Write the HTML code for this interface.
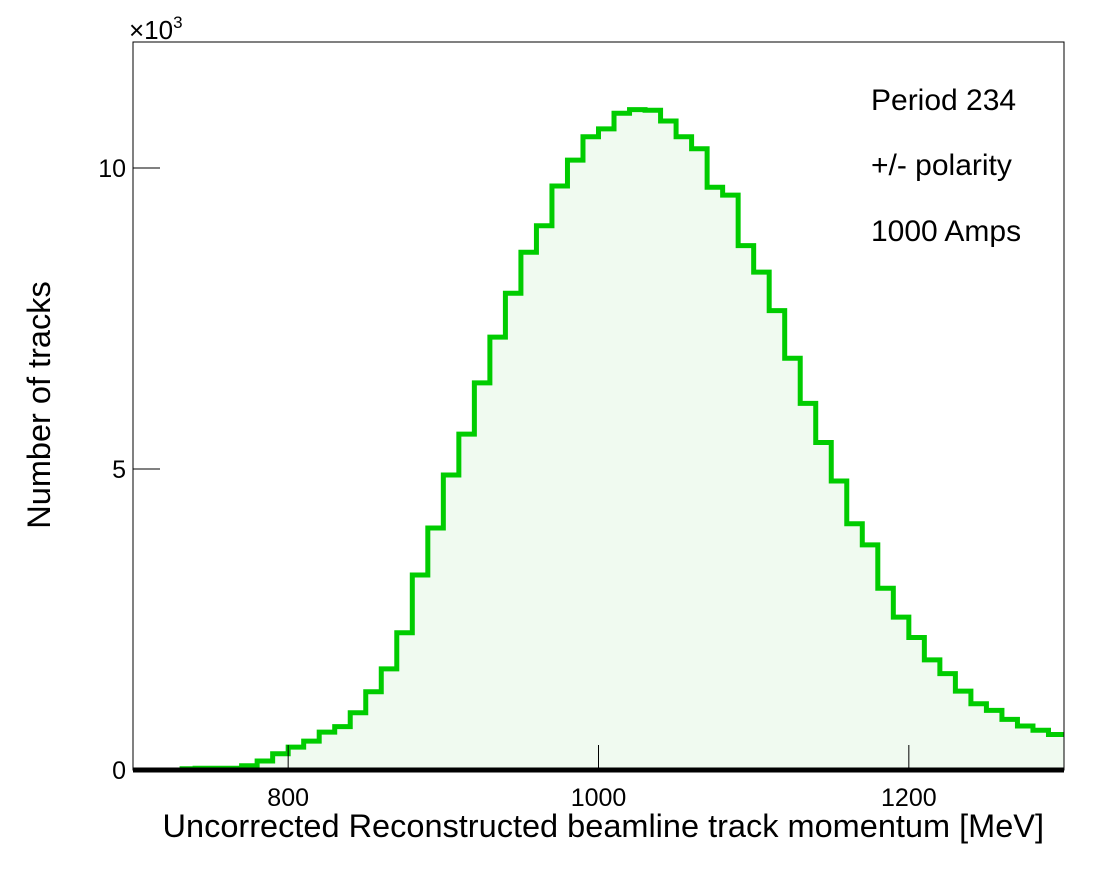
<!DOCTYPE html>
<html><head><meta charset="utf-8"><style>
body{margin:0;background:#fff;}
svg{display:block;font-family:"Liberation Sans",Arial,sans-serif;}
</style></head><body>
<svg id="chart" width="1098" height="875">
<rect width="1098" height="875" fill="#fff"/>
<g id="plot"></g>
<rect x="133" y="42" width="931" height="728" fill="none" stroke="#000" stroke-width="1"/>
<g id="axes"></g>
<text x="129" y="39" font-size="26">×10<tspan dy="-11" font-size="17">3</tspan></text>
<text x="1044" y="837" font-size="32.5" text-anchor="end">Uncorrected Reconstructed beamline track momentum [MeV]</text>
<text transform="translate(50,405) rotate(-90)" font-size="32.5" text-anchor="middle">Number of tracks</text>
<text x="871" y="110" font-size="30">Period 234</text>
<text x="871" y="175" font-size="30">+/- polarity</text>
<text x="871" y="241" font-size="30">1000 Amps</text>
</svg>
<script>
const binStart = 700;
const binWidth = 10;
const counts = [0,0,0,0.02,0.03,0.03,0.03,0.07,0.15,0.27,
0.38,0.48,0.63,0.72,0.95,1.30,1.68,2.28,3.24,4.02,
4.90,5.58,6.43,7.19,7.92,8.60,9.04,9.70,10.13,10.52,
10.65,10.91,10.97,10.96,10.78,10.52,10.32,9.68,9.55,8.71,
8.27,7.63,6.84,6.09,5.44,4.80,4.09,3.74,3.02,2.54,
2.20,1.83,1.60,1.31,1.10,0.99,0.84,0.73,0.66,0.59];
const xTicks = [800,1000,1200];
const yTicks = [0,5,10];
const NS='http://www.w3.org/2000/svg';
const X=v=>133+(v-700)*931/600;
const Y=v=>770-v*60.2;
const plot=document.getElementById('plot'), axes=document.getElementById('axes');
let d='M'+X(binStart)+','+Y(0);
counts.forEach((c,i)=>{const x0=X(binStart+i*binWidth),x1=X(binStart+(i+1)*binWidth);d+=' L'+x0+','+Y(c)+' L'+x1+','+Y(c);});
const fill=document.createElementNS(NS,'path');
fill.setAttribute('d',d+' L'+X(binStart+counts.length*binWidth)+','+Y(0)+' Z');
fill.setAttribute('fill','#f0faf0');


plot.appendChild(fill);
let s='';let started=false;
counts.forEach((c,i)=>{if(c<=0&&!started)return;const x0=X(binStart+i*binWidth),x1=X(binStart+(i+1)*binWidth);s+=(started?' L':'M')+x0+','+Y(c)+' L'+x1+','+Y(c);started=true;});
const line=document.createElementNS(NS,'path');
line.setAttribute('d',s);line.setAttribute('fill','none');line.setAttribute('stroke','#00cc00');line.setAttribute('stroke-width','5');


plot.appendChild(line);
const base=document.createElementNS(NS,'line');
base.setAttribute('x1',133);base.setAttribute('x2',1064);base.setAttribute('y1',770);base.setAttribute('y2',770);base.setAttribute('stroke','#000');base.setAttribute('stroke-width','5');


axes.appendChild(base);
xTicks.forEach(v=>{
 const t=document.createElementNS(NS,'line');
 t.setAttribute('x1',X(v));t.setAttribute('x2',X(v));t.setAttribute('y1',770);t.setAttribute('y2',745);t.setAttribute('stroke','#000');
 
 
 axes.appendChild(t);
 const l=document.createElementNS(NS,'text');
 l.setAttribute('x',X(v));l.setAttribute('y',806);l.setAttribute('font-size','25');l.setAttribute('text-anchor','middle');l.textContent=v;
 
 
 axes.appendChild(l);
});
yTicks.forEach(v=>{
 const t=document.createElementNS(NS,'line');
 t.setAttribute('x1',133);t.setAttribute('x2',160);t.setAttribute('y1',Y(v));t.setAttribute('y2',Y(v));t.setAttribute('stroke','#000');
 
 
 axes.appendChild(t);
 const l=document.createElementNS(NS,'text');
 l.setAttribute('x',126);l.setAttribute('y',Y(v)+9);l.setAttribute('font-size','25');l.setAttribute('text-anchor','end');l.textContent=v;
 
 
 axes.appendChild(l);
});
</script>
</body></html>
